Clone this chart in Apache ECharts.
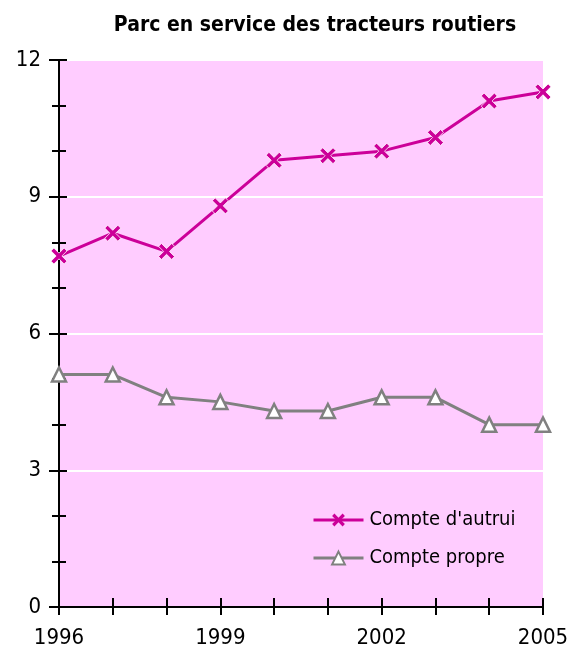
<!DOCTYPE html>
<html><head><meta charset="utf-8">
<script src="https://cdn.jsdelivr.net/npm/echarts@6/dist/echarts.min.js"></script>
<style>html,body{margin:0;padding:0;background:#fff}#c{width:574px;height:650px}</style>
</head><body><div id="c"></div>
<script>
const years = ['1996','1997','1998','1999','2000','2001','2002','2003','2004','2005'];
const autrui = [7.7, 8.2, 7.8, 8.8, 9.8, 9.9, 10.0, 10.3, 11.1, 11.3];
const propre = [5.1, 5.1, 4.6, 4.5, 4.3, 4.3, 4.6, 4.6, 4.0, 4.0];
const yTicks = [0, 3, 6, 9, 12];

const FONT = '"Liberation Sans Narrow", "DejaVu Sans Condensed", sans-serif';
const crossPath = 'path://M0,1.8 L1.8,0 L5,3.2 L8.2,0 L10,1.8 L6.8,5 L10,8.2 L8.2,10 L5,6.8 L1.8,10 L0,8.2 L3.2,5 Z';

const chart = echarts.init(document.getElementById('c'));
const tickStyle = {color:'#000', width:2};
chart.setOption({
  backgroundColor:'#fff',
  animation:false,
  title:{text:'Parc en service des tracteurs routiers', left:310, top:10, textAlign:'center',
    textStyle:{fontFamily:FONT, fontWeight:'bold', fontSize:21, color:'#000'}},
  legend:{left:307, top:505, orient:'vertical', itemGap:18, itemWidth:50, itemHeight:16,
    textStyle:{fontFamily:FONT, fontSize:20, color:'#000', padding:[0,0,0,1]},
    data:[
      {name:'Compte d\'autrui', itemStyle:{borderWidth:0}, lineStyle:{width:3}},
      {name:'Compte propre', lineStyle:{width:3}}
    ]},
  grid:{left:59, right:31, top:60, bottom:43, show:true, backgroundColor:'#ffccff', borderWidth:0},
  xAxis:[{type:'category', data:years, boundaryGap:false,
    axisLine:{lineStyle:{color:'#000', width:2}},
    axisTick:{show:true, interval:0, length:8, lineStyle:tickStyle},
    axisLabel:{interval:2, fontFamily:FONT, fontSize:22, color:'#000', margin:20},
    splitLine:{show:false}},
   {type:'category', data:years, boundaryGap:false, position:'bottom',
    axisLine:{show:false},
    axisTick:{show:true, inside:true, interval:0, length:9, lineStyle:tickStyle},
    axisLabel:{show:false}, splitLine:{show:false}}],
  yAxis:[{type:'value', min:yTicks[0], max:yTicks[yTicks.length-1], interval:3,
    axisLine:{show:true, lineStyle:{color:'#000', width:2}},
    axisTick:{show:true, length:10, lineStyle:tickStyle},
    minorTick:{show:true, splitNumber:3, length:7, lineStyle:tickStyle},
    axisLabel:{fontFamily:FONT, fontSize:22, color:'#000', margin:18},
    splitLine:{show:true, lineStyle:{color:'#fff', width:2}}},
   {type:'value', min:yTicks[0], max:yTicks[yTicks.length-1], interval:3, position:'left',
    axisLine:{show:false},
    axisTick:{show:true, inside:true, length:8, lineStyle:tickStyle},
    minorTick:{show:true, splitNumber:3, length:7, lineStyle:tickStyle},
    axisLabel:{show:false}, splitLine:{show:false}}],
  series:[
    {name:'Compte d\'autrui', type:'line', data:autrui, symbol:crossPath, symbolSize:16,
     showAllSymbol:true, color:'#cc0099', z:3,
     lineStyle:{color:'#cc0099', width:3},
     itemStyle:{color:'#cc0099', borderColor:'#fff', borderWidth:0.8}},
    {name:'Compte propre', type:'line', data:propre, symbol:'triangle', symbolSize:14,
     showAllSymbol:true, color:'#808080', z:2,
     lineStyle:{color:'#808080', width:3},
     itemStyle:{color:'#fff', borderColor:'#808080', borderWidth:2.5}}
  ]
});
</script></body></html>
